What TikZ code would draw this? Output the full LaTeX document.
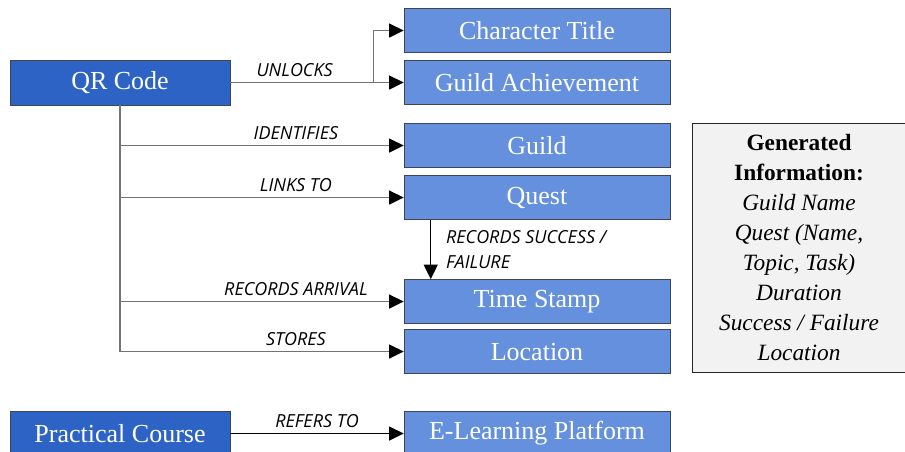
\documentclass[tikz,border=0pt]{standalone}
\usepackage{fontspec}
\setmainfont{Liberation Serif}
\newfontfamily\labelfont{Open Sans}
\usetikzlibrary{arrows.meta, positioning}
\definecolor{qrblue}{HTML}{2E63C6}
\definecolor{boxblue}{HTML}{6590DD}
\definecolor{boxedge}{HTML}{3F4650}
\definecolor{infogray}{HTML}{F2F2F2}
\tikzstyle{mainbox} = [rectangle, minimum width=165pt, minimum height=33.75pt, fill=qrblue, draw=boxedge, text=white, font=\fontsize{19.5}{22}\selectfont]
\tikzstyle{subbox} = [rectangle, minimum width=199.5pt, minimum height=33pt, fill=boxblue, draw=boxedge, text=white, font=\fontsize{19.5}{22}\selectfont]
\tikzstyle{infobox} = [rectangle, minimum width=160.5pt, minimum height=186.75pt, fill=infogray, draw=black!85, align=center, font=\fontsize{17.5}{22.5}\selectfont]
\tikzstyle{arrow} = [draw=black!55, line width=1pt, -{Triangle[length=11pt, width=10.5pt, color=black]}]
\tikzstyle{lbl} = [font=\labelfont\itshape\fontsize{13.5}{18.75}\selectfont, inner sep=2pt]

\begin{document}
\begin{tikzpicture}[node distance=39pt]
	\useasboundingbox (0,0) rectangle (678.75pt,-339pt);
	\clip (0,0) rectangle (678.75pt,-339pt);

	\node (qr) [mainbox] at (90pt,-61.9pt) {QR Code};
	\node (achieve) [subbox] at (402.75pt,-61.9pt) {Guild Achievement};
	\node (title) [subbox, above of=achieve] {Character Title};
	\node (guild) [subbox, below of=achieve, yshift=-8.25pt] {Guild};
	\node (quest) [subbox, below of=guild] {Quest};
	\node (stamp) [subbox, below of=quest, yshift=-39pt] {Time Stamp};
	\node (location) [subbox, below of=stamp, yshift=1.5pt] {Location};
	\node (elearning) [subbox, below of=location, yshift=-22.5pt] {E-Learning Platform};
	\node (course) [mainbox] at (qr |- elearning) {Practical Course};

	\node (info) [infobox] at (599.25pt,-185.6pt) {\textbf{Generated}\\ \textbf{Information:}\\ \textit{Guild Name}\\ \textit{Quest (Name,}\\ \textit{Topic, Task)}\\ \textit{Duration}\\ \textit{Success / Failure}\\ \textit{Location}};

	\coordinate [right=107.25pt of qr.east] (fork);
	\draw [arrow] (qr.east) -- node[lbl, above=2pt, pos=0.45] {UNLOCKS} (fork) -- (achieve.west);
	\draw [arrow] (fork) |- (title.west);

	\draw [arrow] (qr.south) |- node[lbl, above=2pt, pos=0.81] {IDENTIFIES} (guild.west);
	\draw [arrow] (qr.south) |- node[lbl, above=2pt, pos=0.81] {LINKS TO} (quest.west);
	\draw [arrow] (qr.south) |- node[lbl, above=2pt, pos=0.81] {RECORDS ARRIVAL} (stamp.west);
	\draw [arrow] (qr.south) |- node[lbl, above=2pt, pos=0.81] {STORES} (location.west);

	\draw [arrow, draw=black] ([xshift=20.25pt]quest.south west) -- node[lbl, right, align=left, xshift=9pt] {RECORDS SUCCESS /\\FAILURE} ([xshift=20.25pt]stamp.north west);

	\draw [arrow, draw=black] (course) -- node[lbl, above=2pt] {REFERS TO} (elearning);
\end{tikzpicture}
\end{document}
